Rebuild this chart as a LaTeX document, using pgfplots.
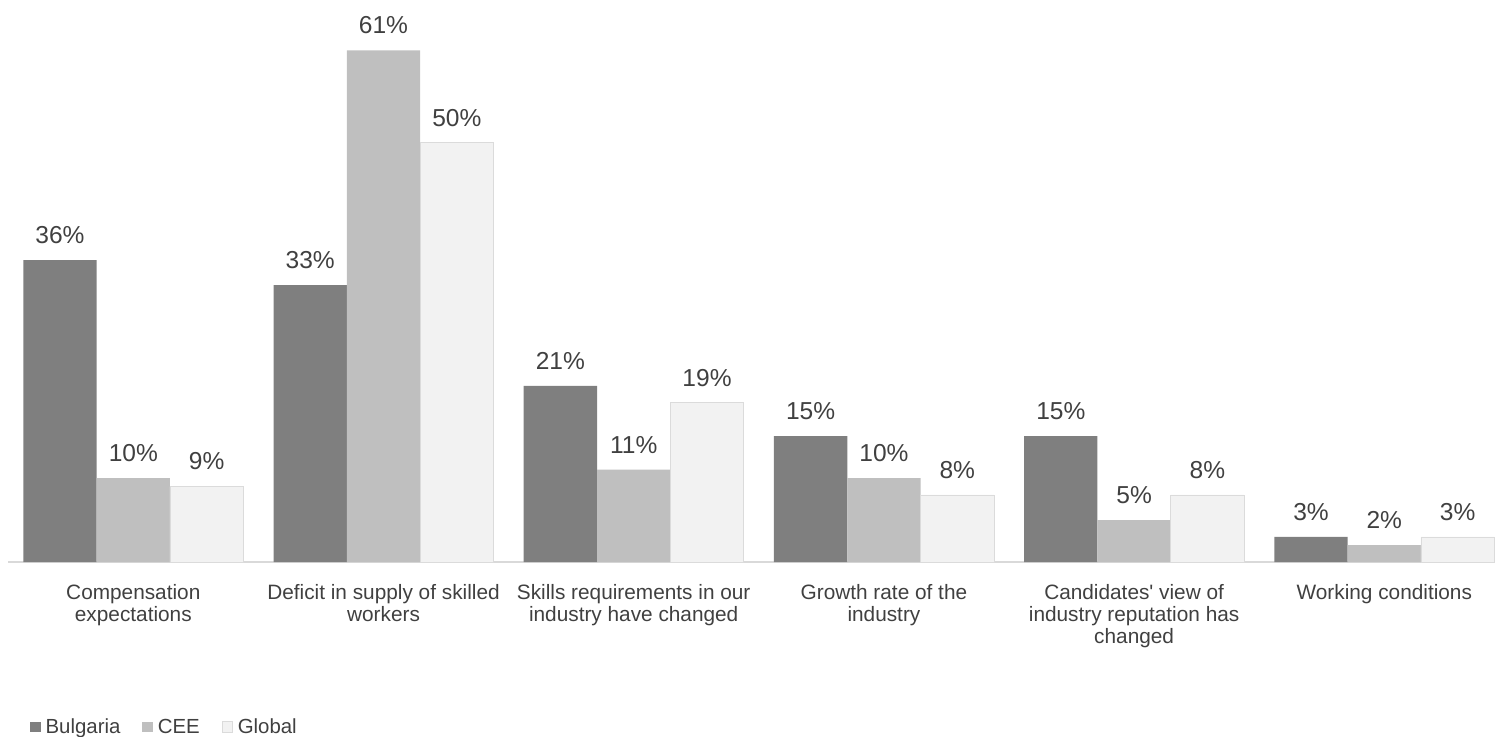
\documentclass[border=0pt]{standalone}
\usepackage{pgfplots}
\pgfplotsset{compat=1.18}
\usepackage{fontspec}
\setmainfont{Liberation Sans}
\definecolor{bul}{HTML}{7F7F7F}
\definecolor{cee}{HTML}{BFBFBF}
\definecolor{glo}{HTML}{F2F2F2}
\definecolor{txt}{HTML}{404040}
\definecolor{axl}{HTML}{D9D9D9}
\begin{document}
\begin{tikzpicture}
\useasboundingbox (0pt,0pt) rectangle (1122pt,-552.75pt);
\begin{axis}[
  at={(6.15pt,-421.5pt)}, anchor=south west,
  scale only axis, width=1115.25pt, height=421.5pt,
  xmin=-0.5, xmax=5.443, ymin=0, ymax=67,
  clip=false,
  axis x line*=bottom, axis y line=none,
  x axis line style={draw=axl, line width=0.9pt, -},
  xtick={0,...,5}, xtick style={draw=none},
  xticklabels={Compensation\\expectations,
    Deficit in supply of skilled\\workers,
    Skills requirements in our\\industry have changed,
    Growth rate of the\\industry,
    Candidates\textquotesingle{} view of\\industry reputation has\\changed,
    Working conditions},
  xticklabel style={font=\fontsize{15.6}{16.5}\selectfont, text=txt, align=center, anchor=north, inner sep=0pt, yshift=-12pt},
  ybar legend/.style={/pgfplots/legend image code/.code={\fill[##1] (0pt,-4pt) rectangle (8pt,4pt);}},
  ybar, bar width=0.293,
  nodes near coords={\pgfmathprintnumber[assume math mode=true]{\pgfplotspointmeta}\%},
  every node near coord/.append style={font=\fontsize{18.4}{20}\selectfont, text=txt, inner sep=0pt, anchor=south, yshift=12pt},
  legend columns=3,
  legend style={at={(0.012,-0.2936)}, anchor=west, draw=none, fill=none,
    font=\fontsize{15.3}{16}\selectfont, text=txt,
    nodes={inner xsep=3.5pt},
    /tikz/every even column/.append style={column sep=13pt}},
]
\addplot[fill=bul, draw=none, bar shift=-0.293] coordinates {(0,36)(1,33)(2,21)(3,15)(4,15)(5,3)};
\addplot[fill=cee, draw=none, bar shift=0] coordinates {(0,10)(1,61)(2,11)(3,10)(4,5)(5,2)};
\addplot[fill=glo, draw=black!14, line width=0.5pt, bar shift=0.293] coordinates {(0,9)(1,50)(2,19)(3,8)(4,8)(5,3)};
\legend{Bulgaria, CEE, Global}
\end{axis}
\end{tikzpicture}
\end{document}
